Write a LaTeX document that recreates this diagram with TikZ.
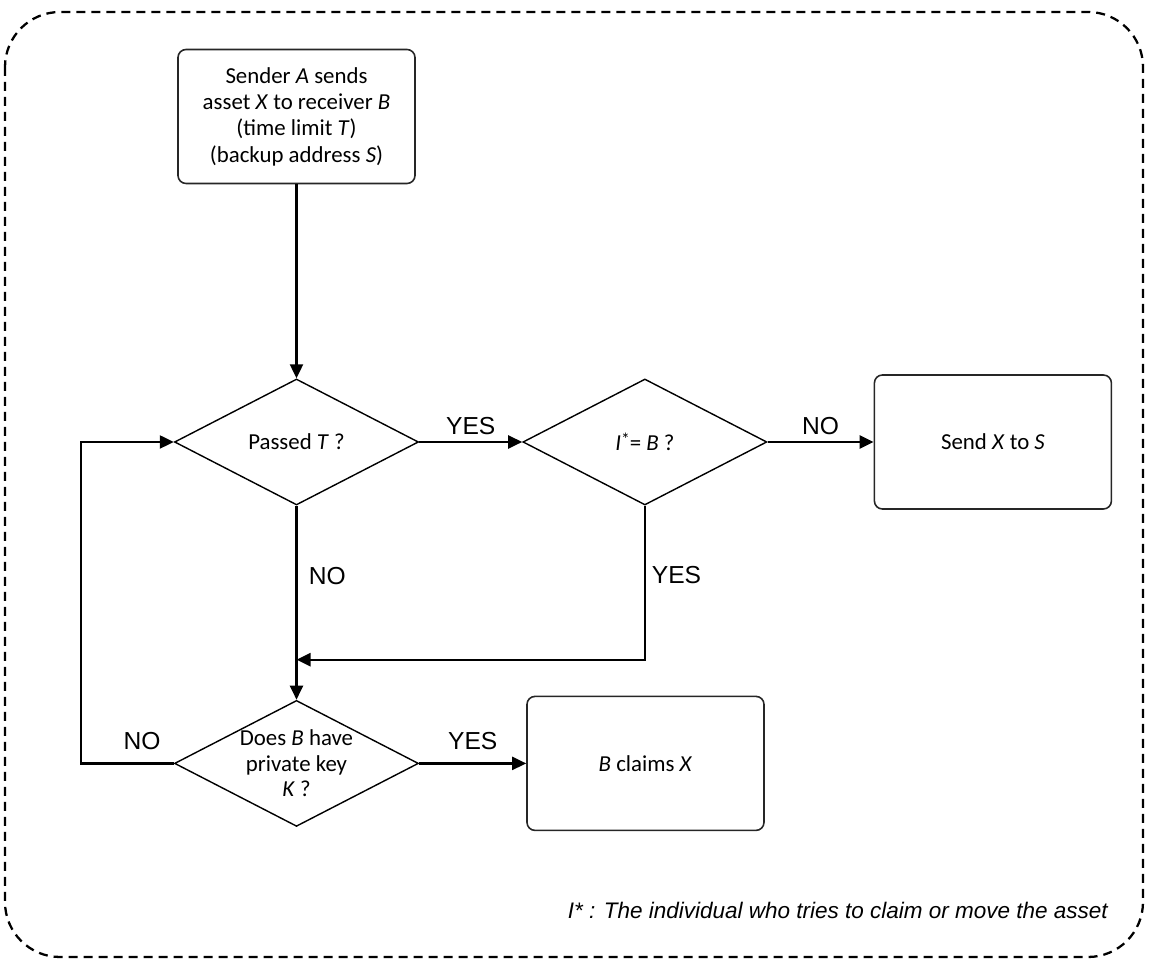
\documentclass[tikz,border=0pt]{standalone}
\usepackage{fontspec}
\setmainfont{Carlito}
\setsansfont{Liberation Sans}
\usepackage{tikz}
\usetikzlibrary{shapes.geometric,arrows.meta,positioning}
\tikzset{
  actionbox/.style={rectangle, rounded corners=0.16cm, minimum height=2.68cm, minimum width=4.74cm,
    align=center, draw=black!85, line width=0.9pt, font=\fontsize{13}{15}\selectfont},
  decision/.style={diamond, aspect=1.94, minimum height=2.52cm, minimum width=4.88cm,
    align=center, draw=black, line width=0.8pt, inner sep=0pt, font=\fontsize{13}{14.5}\selectfont},
  flowarrow/.style={-{Triangle[length=2.8mm,width=2.6mm]}, line width=1.3pt},
  yesno/.style={font=\sffamily\fontsize{14}{16}\selectfont},
  outline/.style={dashed, dash pattern=on 0.18cm off 0.12cm, line width=1.3pt, rounded corners=1.1cm}
}
\newcommand{\istar}{\textit{I}{\fontsize{10}{10}\selectfont\raisebox{0.55ex}{*}}}
\begin{document}
\begin{tikzpicture}[node distance=2cm]
\useasboundingbox (0,0) rectangle (23.26,-19.18);
\draw[outline] (0.1,-0.24) rectangle (22.86,-19.14);
\node[actionbox] (send) at (5.93,-2.33) {Sender \textit{A} sends\\asset \textit{X} to receiver \textit{B}\\(time limit \textit{T})\\(backup address \textit{S})};
\node[decision, below=3.88cm of send] (passed) {Passed \textit{T} ?};
\node[decision, right=2.06cm of passed] (ident) {\istar= \textit{B} ?};
\node[actionbox, right=2.12cm of ident] (backup) {Send \textit{X} to \textit{S}};
\node[decision, below=3.88cm of passed] (haskey) {Does \textit{B} have\\private key\\\textit{K} ?};
\node[actionbox, right=2.14cm of haskey] (claim) {\textit{B} claims \textit{X}};
\coordinate[below=3.08cm of ident.south] (turn);
\coordinate[left=1.86cm of haskey.west] (loopturn);
\node[anchor=east, inner sep=0pt, font=\sffamily\itshape\fontsize{12.8}{15}\selectfont] (note) at (22.16,-18.2) {I* : The individual who tries to claim or move the asset};
\draw[flowarrow] (send) -- (passed);
\draw[flowarrow] (passed) -- node[yesno, above] {YES} (ident);
\draw[flowarrow] (ident) -- node[yesno, above] {NO} (backup);
\draw[flowarrow] (passed) -- node[yesno, right, pos=0.36, xshift=3pt] {NO} (haskey);
\draw[flowarrow] (ident.south) -- node[yesno, right, pos=0.45] {YES} (turn) -- (turn -| passed.south);
\draw[flowarrow] (haskey) -- node[yesno, above, yshift=4pt] {YES} (claim);
\draw[flowarrow] (haskey.west) -- node[yesno, above, pos=0.34, yshift=4pt] {NO} (loopturn) |- (passed.west);
\end{tikzpicture}
\end{document}
